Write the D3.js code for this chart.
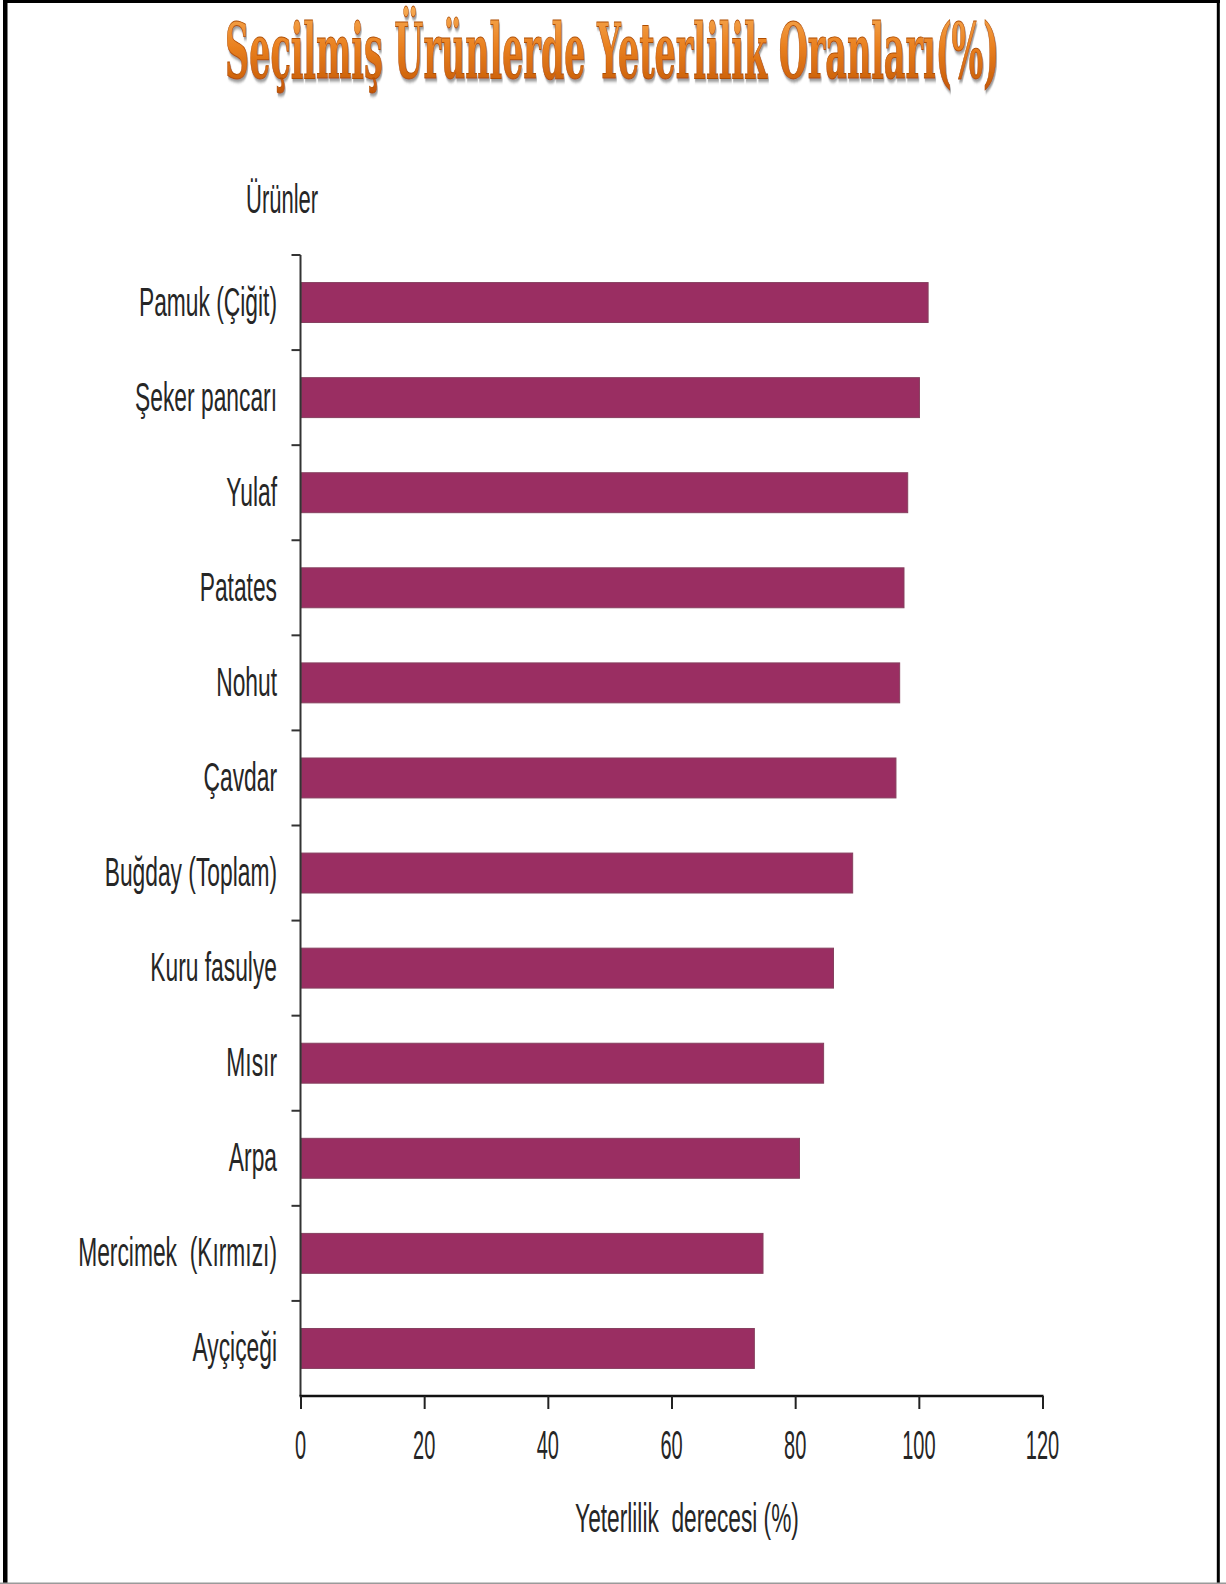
<!DOCTYPE html>
<html>
<head>
<meta charset="utf-8">
<script src="https://cdn.jsdelivr.net/npm/d3@7"></script>
<style>
  html, body { margin: 0; padding: 0; background: #fff; }
  svg { display: block; }
  text { white-space: pre; }
</style>
</head>
<body>
<svg id="chart" width="1226" height="1584"></svg>
<script>
const titleText = "Seçilmiş Ürünlerde Yeterlilik Oranları(%)";
const yAxisTitle = "Ürünler";
const xAxisTitle = "Yeterlilik  derecesi (%)";
const categories = [
  "Pamuk (Çiğit)", "Şeker pancarı", "Yulaf", "Patates", "Nohut", "Çavdar",
  "Buğday (Toplam)", "Kuru fasulye", "Mısır", "Arpa", "Mercimek  (Kırmızı)", "Ayçiçeği"
];
const values = [101.5, 100.1, 98.2, 97.6, 96.9, 96.3, 89.3, 86.2, 84.6, 80.7, 74.8, 73.4];
const xTicks = [0, 20, 40, 60, 80, 100, 120];

(function () {
const svg = d3.select("#chart");
const W = 1226, H = 1584;
const pLeft = 300.5, pRight = 1042.5, pTop = 255, pBottom = 1396;
const font = "'Liberation Sans', Arial, sans-serif";
const textColor = "#262626";

// frame
svg.append("rect").attr("x", 0).attr("y", 0).attr("width", W).attr("height", H).attr("fill", "#fff");
svg.append("rect").attr("x", 3).attr("y", 0).attr("width", 1217).attr("height", 3).attr("fill", "#000");
svg.append("rect").attr("x", 3).attr("y", 0).attr("width", 4.5).attr("height", 1583).attr("fill", "#000");
svg.append("rect").attr("x", 1216.8).attr("y", 0).attr("width", 3).attr("height", 1583).attr("fill", "#000");
svg.append("rect").attr("x", 0).attr("y", 1582.5).attr("width", W).attr("height", 1.5).attr("fill", "#9a9a9a");

// title
const defs = svg.append("defs");
const grad = defs.append("linearGradient").attr("id", "tgrad")
  .attr("x1", 0).attr("y1", 0).attr("x2", 0).attr("y2", 1);
grad.append("stop").attr("offset", "0%").attr("stop-color", "#f7ac55");
grad.append("stop").attr("offset", "45%").attr("stop-color", "#e9801f");
grad.append("stop").attr("offset", "100%").attr("stop-color", "#c05404");
const shadow = defs.append("filter").attr("id", "tshadow").attr("x", "-5%").attr("y", "-20%").attr("width", "110%").attr("height", "150%");
shadow.append("feDropShadow").attr("dx", 2).attr("dy", 3).attr("stdDeviation", 1.5).attr("flood-color", "#555").attr("flood-opacity", 0.6);

const title = svg.append("text")
  .attr("text-anchor", "middle")
  .attr("font-family", "'DejaVu Serif', 'Liberation Serif', serif")
  .attr("font-weight", "bold")
  .attr("font-size", 76)
  .attr("fill", "url(#tgrad)")
  .attr("stroke", "#b04e04")
  .attr("stroke-width", 0.9)
  .attr("filter", "url(#tshadow)")
  .text(titleText);
const tLen = title.node().getComputedTextLength() || 1500;
title.attr("transform", `translate(612,78) scale(${774 / tLen},1)`);

function ctext(x, y, str, size, sx, anchor) {
  return svg.append("text")
    .attr("transform", `translate(${x},${y}) scale(${sx},1)`)
    .attr("text-anchor", anchor)
    .attr("font-family", font)
    .attr("font-size", size)
    .attr("fill", textColor)
    .text(str);
}

// scales
const x = d3.scaleLinear().domain([0, 120]).range([pLeft, pRight]);
const pi = 0.58;
const y = d3.scaleBand().domain(categories).range([pTop, pBottom]).paddingInner(pi).paddingOuter(pi / 2);
const step = y.step();

// bars
svg.append("g").selectAll("rect").data(categories).join("rect")
  .attr("x", x(0) + 1)
  .attr("y", d => y(d))
  .attr("width", (d, i) => x(values[i]) - x(0) - 1)
  .attr("height", y.bandwidth())
  .attr("fill", "#9a2e62")
  .attr("stroke", "#86405f")
  .attr("stroke-width", 1);

// y axis (line + boundary ticks)
const yAxisG = svg.append("g");
yAxisG.append("line").attr("x1", pLeft).attr("x2", pLeft).attr("y1", pTop).attr("y2", pBottom)
  .attr("stroke", "#333").attr("stroke-width", 2);
const boundaries = categories.map(c => y(c) - step * pi / 2);
yAxisG.selectAll("line.tk").data(boundaries).join("line").attr("class", "tk")
  .attr("x1", pLeft - 9).attr("x2", pLeft).attr("y1", d => d).attr("y2", d => d)
  .attr("stroke", "#333").attr("stroke-width", 2);

// category labels
categories.forEach(c => {
  ctext(277, y(c) + y.bandwidth() / 2 + 13, c, 40, 0.57, "end");
});
ctext(246, 213, yAxisTitle, 40, 0.55, "start");

// x axis
const xAxis = d3.axisBottom(x).tickValues(xTicks).tickSize(13).tickFormat(d3.format("d"));
const xg = svg.append("g").attr("transform", `translate(0,${pBottom})`).call(xAxis);
xg.select(".domain").attr("stroke", "#111").attr("stroke-width", 2.5).attr("d", `M${pLeft - 1},0H${pRight + 1}`);
xg.selectAll(".tick line").attr("stroke", "#222").attr("stroke-width", 2);
xg.selectAll(".tick text").remove();
xTicks.forEach(t => {
  ctext(x(t), 1459, String(t), 40, 0.5, "middle");
});

ctext(687, 1532, xAxisTitle, 40, 0.568, "middle");
})();
</script>
</body>
</html>
